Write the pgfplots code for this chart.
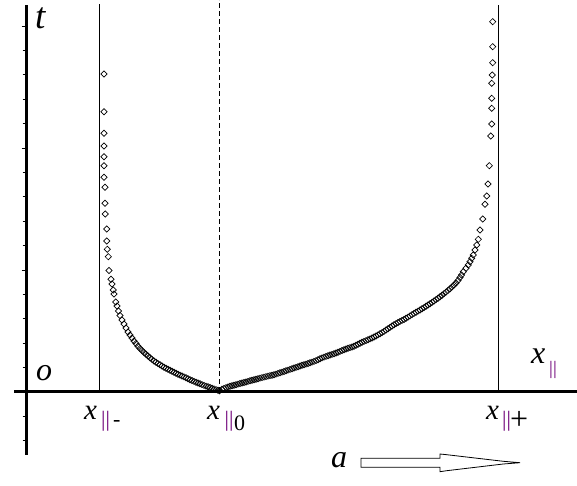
\documentclass[border=0pt]{standalone}
\usepackage{pgfplots}
\usepackage{pgfplotstable}
\usepackage{fontspec}
\setmainfont{Liberation Serif}
\pgfplotsset{compat=1.18}
\definecolor{subpurple}{RGB}{110,0,120}
\newcommand\fs[1]{\fontsize{#1}{#1}\selectfont}

% points, in picture pixels (px to the right, py downward)
\pgfplotstableread{
px py
104 74
104 111.7
104 133.3
104 146
104 156.7
104 165.7
104 177.3
105 187.3
105 203.3
105.3 214
106.7 229
106.7 241
107.3 249.3
108.3 256.7
109 270.5
111 279.3
112 284
113.3 290
114 294
115.7 302
117 306
118.5 311
120 315.5
122 320
124 324
126 328
128 332
130 335
132 338
134 341
136 343.5
138 346.3
140 348.5
142 350.5
144 352.5
146 354.3
148 356
150 357.8
152 359.4
154 361
156 362.3
158 363.6
160 364.8
162 366
164 367.2
166 368.3
168 369.3
170 370.3
172 371.3
174 372.3
176 373.3
178 374.2
180 375.1
182 376
184 376.9
186 377.8
188 378.8
190 379.7
192 380.5
194 381.4
196 382.2
198 383
200 383.8
202 384.6
204 385.4
206 386.1
208 386.8
210 387.5
212 388.2
214 388.9
216 389.6
218 390.3
219.5 390.8
222 389.2
224 388.4
226 387.6
228 386.9
230 386.3
232 385.8
234 385.2
236 384.7
238 384.1
240 383.5
242 383
244 382.5
246 382
248 381.4
250 380.8
252 380.3
254 379.8
256 379.3
258 378.7
260 378.1
262 377.6
264 377.1
266 376.6
268 376.1
270 375.6
272 375.2
274 374.8
276 374.1
278 373.4
280 372.7
282 372.1
284 371.5
286 370.8
288 370.1
290 369.4
292 368.7
294 368
296 367.4
298 366.7
300 366
302 365.3
304 364.7
306 364.1
308 363.5
310 362.8
312 362.1
314 361.4
316 360.6
318 359.7
320 358.8
322 357.9
324 357.1
326 356.4
328 355.7
330 355
332 354.4
334 353.7
336 353
338 352.2
340 351.4
342 350.5
344 349.7
346 349
348 348.3
350 347.6
352 347
354 346.3
356 345.2
358 344.2
360 343.2
362 342.2
364 341.4
366 340.6
368 339.8
370 338.9
372 338
374 337
376 336
378 334.9
380 333.8
382 332.6
384 331.4
386 330
388 328.7
390 327.4
392 326
394 324.8
396 323.6
398 322.5
400 321.4
402 320.4
404 319.5
406 318.3
408 317.1
410 315.9
412 314.6
414 313.4
416 312.2
418 311.1
420 310
422 308.8
424 307.6
426 306.3
428 305
430 303.7
432 302.4
434 301
436 299.6
438 298.2
440 296.7
442 295.2
444 293.6
446 292.1
448 290.4
450 288.7
452 286.9
454 285
456 283
458 280.5
460 277.5
461.5 275
463.3 271.7
466 268.3
468.3 265
470 261.7
471.7 258.3
473.3 255
475 250
476.7 245
478.3 239.3
480 230
482.7 219
485 204.3
486.7 196
488 184
489.3 165.7
490.7 136
491.7 124
491.7 108.3
491.7 98.3
491.7 83.3
492.3 75
492.7 62.7
492.7 46.7
492.7 21.7
}\curvedata

\begin{document}
\begin{tikzpicture}
\begin{axis}[
    x=1pt, y=1pt,
    xmin=-12, xmax=551,
    ymin=-63, ymax=387,
    axis lines=middle,
    axis line style={line width=3pt, -},
    clip=false,
    tick align=outside,
    tick style={black, line width=0.8pt},
    major tick length=4.5pt,
    minor tick length=3.5pt,
    xtick=\empty,
    minor xtick={36,94,134,173,211,231,271,289,308,367,386,406,464,483,502},
    ytick={122,244,366},
    minor ytick={-48.8,-24.4,24.4,48.8,73.2,97.6,146.4,170.8,195.2,219.6,268.4,292.8,317.2,341.6},
    yticklabels={},
]
    % asymptotes and the axis of symmetry
    \addplot[black, line width=0.8pt] coordinates {(73.5,0) (73.5,388)};
    \addplot[black, line width=0.8pt] coordinates {(472.5,0) (472.5,387)};
    \addplot[black, line width=0.8pt, dash pattern=on 5pt off 3pt] coordinates {(193.5,0) (193.5,392)};

    \addplot[only marks, mark=square, mark size=2.2pt,
        mark options={rotate=45, line width=0.65pt, draw=black, fill=white}]
        table[x expr=\thisrow{px}-26, y expr=392-\thisrow{py}] {\curvedata};

    % labels
    \node[anchor=base west, inner sep=0] at (axis cs:9,363) {\fs{37}\itshape t};
    \node[anchor=base west, inner sep=0] at (axis cs:10,11) {\fs{32}\itshape o};
    \node[anchor=base west, inner sep=0] at (axis cs:305,-76) {\fs{32}\itshape a};
    \node[anchor=base west, inner sep=0] at (axis cs:505,28) {\fs{32}\itshape x};
    \node[anchor=base west, inner sep=0] at (axis cs:523,17.5) {\fs{19}\color{subpurple}||};

    \node[anchor=base west, inner sep=0] at (axis cs:58,-28) {\fs{29}\itshape x};
    \node[anchor=base west, inner sep=0] at (axis cs:75,-35) {\fs{22}\color{subpurple}||};
    \node[anchor=base west, inner sep=0] at (axis cs:87,-35) {\fs{22}-};

    \node[anchor=base west, inner sep=0] at (axis cs:181,-28) {\fs{29}\itshape x};
    \node[anchor=base west, inner sep=0] at (axis cs:198.5,-35) {\fs{22}\color{subpurple}||};
    \node[anchor=base west, inner sep=0] at (axis cs:208,-38.5) {\fs{22}0};

    \node[anchor=base west, inner sep=0] at (axis cs:460,-28) {\fs{29}\itshape x};
    \node[anchor=base west, inner sep=0] at (axis cs:476,-35) {\fs{22}\color{subpurple}||};
    \node[anchor=base west, inner sep=0] at (axis cs:484,-38) {\fs{32}+};

    % direction arrow
    \draw[black, line width=0.8pt, fill=white]
        (axis cs:335,-66.3) -- (axis cs:414,-66.3) -- (axis cs:414,-62)
        -- (axis cs:420.7,-62.7) -- (axis cs:477.3,-69.3) -- (axis cs:494,-70.7)
        -- (axis cs:477.3,-72) -- (axis cs:420.7,-78.7) -- (axis cs:414,-79.7)
        -- (axis cs:414,-75.3) -- (axis cs:335,-75.3) -- cycle;

    \coordinate (BL) at (axis cs:-26,-94);
    \coordinate (TR) at (axis cs:551,392);
\end{axis}
\pgfresetboundingbox
\useasboundingbox (BL) rectangle (TR);
\end{tikzpicture}
\end{document}
